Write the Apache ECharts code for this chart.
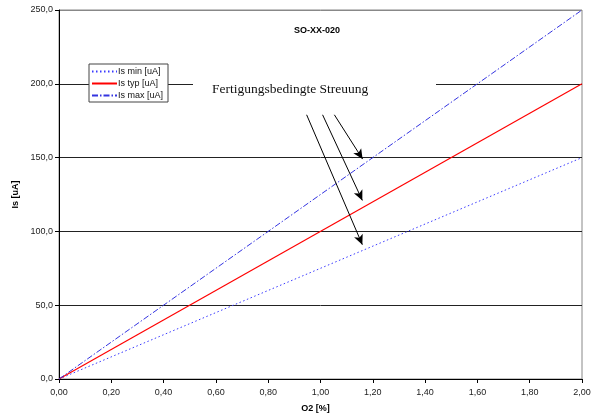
<!DOCTYPE html>
<html>
<head>
<meta charset="utf-8">
<script src="https://cdn.jsdelivr.net/npm/echarts@6/dist/echarts.min.js"></script>
<style>
    html, body {margin: 0; padding: 0; background: #fff;}
    #main {width: 592px; height: 416px;}
</style>
</head>
<body>
<div id="main"></div>
<script>
// O2 [%] und Sensorstrom [uA]
let oxygen = [0, 2.0];
let isMin = [0, 150];
let isTyp = [0, 200];
let isMax = [0, 250];
let seriesNames = ['Is min [uA]', 'Is typ [uA]', 'Is max [uA]'];
// Pfeile: [start, spitze] in Datenkoordinaten
let arrows = [
    [[0.947, 179], [1.160, 91]],
    [[1.008, 179], [1.160, 121]],
    [[1.053, 179], [1.161, 149]]
];

function pairs(xs, ys) {
    let out = [];
    for (let i = 0; i < xs.length; i++) out.push([xs[i], ys[i]]);
    return out;
}

function comma(v, n) {
    return v.toFixed(n).replace('.', ',');
}

let myChart = echarts.init(document.getElementById('main'));
let font = 'Liberation Sans, Arial, sans-serif';

let arrowLines = arrows.map(function (a) {
    return [{coord: a[0]}, {coord: a[1]}];
});

let option = {
    animation: false,
    backgroundColor: '#fff',
    textStyle: {fontFamily: font},
    title: {
        text: 'SO-XX-020',
        left: 289,
        top: 21,
        textStyle: {fontSize: 9, fontWeight: 'bold', color: '#000', fontFamily: font}
    },
    legend: {
        orient: 'vertical',
        left: 89,
        top: 64,
        padding: [3, 5, 2, 2],
        itemGap: 3,
        itemWidth: 25,
        itemHeight: 10,
        backgroundColor: '#fff',
        borderColor: '#444',
        borderWidth: 1,
        itemStyle: {opacity: 0},
        textStyle: {fontSize: 9, color: '#111', fontFamily: font, padding: [0, 0, 0, -4]},
        data: seriesNames
    },
    grid: {
        left: 59,
        right: 10,
        top: 10,
        bottom: 37,
        outerBoundsMode: 'none',
        show: true,
        borderColor: '#888',
        borderWidth: 1
    },
    xAxis: {
        type: 'value',
        min: 0,
        max: 2,
        interval: 0.2,
        name: 'O2 [%]',
        nameLocation: 'middle',
        nameGap: 25,
        nameTextStyle: {fontSize: 9, fontWeight: 'bold', color: '#000', fontFamily: font, padding: [0, 10, 0, 0]},
        axisLine: {lineStyle: {color: '#000', width: 1}},
        axisTick: {show: true, length: 4, lineStyle: {color: '#000'}},
        axisLabel: {
            fontSize: 9, color: '#222', margin: 9,
            formatter: function (v) { return comma(v, 2); }
        },
        splitLine: {show: false}
    },
    yAxis: {
        type: 'value',
        min: 0,
        max: 250,
        interval: 50,
        name: 'Is [uA]',
        nameLocation: 'middle',
        nameGap: 28,
        nameTextStyle: {fontSize: 9, fontWeight: 'bold', color: '#000', fontFamily: font},
        axisLine: {show: true, lineStyle: {color: '#000', width: 1}},
        axisTick: {show: true, length: 4, lineStyle: {color: '#000'}},
        axisLabel: {
            fontSize: 9, color: '#222', margin: 6,
            formatter: function (v) { return comma(v, 1); }
        },
        splitLine: {show: true, lineStyle: {color: ['#222', '#222', '#222', '#222', '#222', '#888'], width: 1}}
    },
    graphic: [{
        type: 'rect',
        z: 50,
        shape: {x: 193, y: 77, width: 243, height: 24},
        style: {fill: '#fff'}
    }, {
        type: 'text',
        z: 51,
        left: 212,
        top: 82,
        style: {
            text: 'Fertigungsbedingte Streuung',
            fontFamily: 'Liberation Serif, Times New Roman, serif',
            fontSize: 13.5,
            fill: '#111'
        }
    }],
    series: [{
        name: seriesNames[0],
        type: 'line',
        data: pairs(oxygen, isMin),
        symbol: 'none',
        z: 3,
        lineStyle: {color: '#3a3aff', width: 1, type: [1.5, 2.5]},
        itemStyle: {color: '#3a3aff'}
    }, {
        name: seriesNames[1],
        type: 'line',
        data: pairs(oxygen, isTyp),
        symbol: 'none',
        z: 3,
        lineStyle: {color: '#ff0000', width: 1.2, type: 'solid'},
        itemStyle: {color: '#ff0000'},
        markLine: {
            silent: true,
            symbol: ['none', 'arrow'],
            symbolSize: [7, 10],
            label: {show: false},
            lineStyle: {color: '#000', width: 1, type: 'solid'},
            data: arrowLines
        }
    }, {
        name: seriesNames[2],
        type: 'line',
        data: pairs(oxygen, isMax),
        symbol: 'none',
        z: 3,
        lineStyle: {color: '#3434e0', width: 1, type: [6, 2, 1.5, 2]},
        itemStyle: {color: '#3434e0'}
    }]
};
myChart.setOption(option);
</script>
</body>
</html>
